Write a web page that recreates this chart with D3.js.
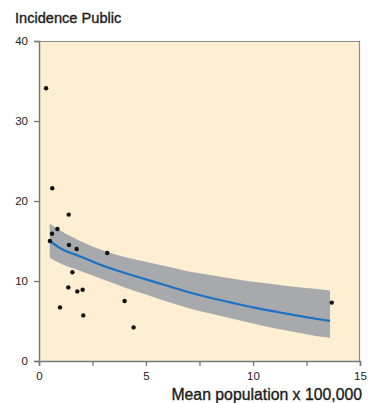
<!DOCTYPE html>
<html><head><meta charset="utf-8">
<script src="https://cdn.jsdelivr.net/npm/d3@7"></script>
<style>body{margin:0;background:#fff}svg{display:block}text{font-family:"Liberation Sans",Arial,sans-serif}</style>
</head><body><div id="chart"></div>
<script>
const pointX = [0.33,0.62,1.39,0.86,0.61,0.51,1.40,1.76,3.19,1.56,1.37,1.79,2.04,0.98,2.07,4.00,4.42,13.68];
const pointY = [34.1,21.6,18.3,16.5,15.9,15.0,14.5,14.0,13.5,11.1,9.2,8.7,8.9,6.7,5.7,7.5,4.2,7.3];
const fitX = [0.5,1,2,3,4,5,6,7,8,9,10,11,12,13,13.6];
const fitY = [15.0,14.1,13.0,11.9,11.0,10.2,9.4,8.6,7.9,7.3,6.7,6.2,5.7,5.25,5.0];
const upperY = [17.2,16.3,14.9,13.8,13.0,12.4,11.8,11.2,10.75,10.3,9.9,9.6,9.25,9.0,8.8];
const lowerY = [12.9,12.2,11.2,10.2,9.2,8.3,7.4,6.6,5.95,5.3,4.7,4.1,3.6,3.1,2.9];
const xTicks = [0,2.5,5,7.5,10,12.5,15];
const xTickLabels = ["0","","5","","10","","15"];
const yTicks = [0,10,20,30,40];

const W=368,H=403, L=39, R=360, T=41, B=361;
const svg=d3.select("#chart").append("svg").attr("width",W).attr("height",H);
const x=d3.scaleLinear().domain([0,15]).range([L,R]);
const y=d3.scaleLinear().domain([0,40]).range([B,T]);

svg.append("rect").attr("x",L).attr("y",T).attr("width",R-L).attr("height",B-T).attr("fill","#FEEFD3");

const band=fitX.map((v,i)=>({x:v,lo:lowerY[i],hi:upperY[i],m:fitY[i]}));
svg.append("path").datum(band).attr("fill","#A8A9AD")
  .attr("d",d3.area().x(d=>x(d.x)).y0(d=>y(d.lo)).y1(d=>y(d.hi)).curve(d3.curveMonotoneX));
svg.append("path").datum(band).attr("fill","none").attr("stroke","#1a72c4").attr("stroke-width",2.2)
  .attr("d",d3.line().x(d=>x(d.x)).y(d=>y(d.m)).curve(d3.curveMonotoneX));

svg.selectAll("circle.pt").data(pointX.map((v,i)=>[v,pointY[i]])).enter().append("circle")
  .attr("cx",d=>x(d[0])).attr("cy",d=>y(d[1])).attr("r",2.2).attr("fill","#111");

// frame
svg.append("line").attr("x1",L).attr("x2",R).attr("y1",T+0.5).attr("y2",T+0.5).attr("stroke","#8a8a8a").attr("stroke-width",1.2);
svg.append("line").attr("x1",R-0.5).attr("x2",R-0.5).attr("y1",T).attr("y2",B).attr("stroke","#8a8a8a").attr("stroke-width",1.2);

const xAxis=svg.append("g").attr("transform",`translate(0,${B})`)
  .call(d3.axisBottom(x).tickValues(xTicks).tickFormat((d,i)=>xTickLabels[i]).tickSize(5).tickPadding(6));
const yAxis=svg.append("g").attr("transform",`translate(${L},0)`)
  .call(d3.axisLeft(y).tickValues(yTicks).tickSize(5).tickPadding(6));
[xAxis,yAxis].forEach(g=>{
  g.select(".domain").attr("stroke","#777").attr("stroke-width",1.5);
  g.selectAll(".tick line").attr("stroke","#777").attr("stroke-width",1.3);
  g.selectAll("text").attr("font-size",11.5).attr("fill","#222").attr("font-family","Liberation Sans, Arial, sans-serif");
});

svg.append("text").attr("x",15).attr("y",23).attr("font-size",14.6).attr("fill","#1a1a1a")
  .attr("stroke","#1a1a1a").attr("stroke-width",0.35).text("Incidence Public");
svg.append("text").attr("x",362).attr("y",400).attr("text-anchor","end").attr("font-size",15.8).attr("fill","#1a1a1a")
  .attr("stroke","#1a1a1a").attr("stroke-width",0.35).text("Mean population x 100,000");
</script></body></html>
